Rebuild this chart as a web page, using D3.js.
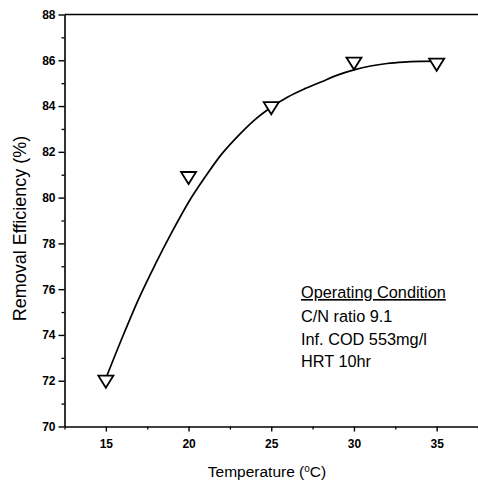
<!DOCTYPE html>
<html>
<head>
<meta charset="utf-8">
<script src="https://cdn.jsdelivr.net/npm/d3@7"></script>
<style>
  body { margin: 0; background: #fff; }
  svg { display: block; }
  .tick text { font-family: "Liberation Sans Narrow", "Arial Narrow", "Liberation Sans", sans-serif; font-weight: bold; font-size: 12px; }
</style>
</head>
<body>
<div id="chart"></div>
<script>
// Measured points (triangles)
const temps = [15, 20, 25, 30, 35];
const efficiency = [72.0, 80.9, 83.95, 85.9, 85.85];

// Fitted curve
const curveTemps = [15, 16, 17, 18, 19, 20, 21, 22, 23, 24, 25, 26, 27, 28, 29, 30, 31, 32, 33, 34, 35];
const curveEff = [72.1, 73.9, 75.6, 77.1, 78.5, 79.8, 80.9, 81.9, 82.7, 83.4, 83.95, 84.4, 84.75, 85.05, 85.35, 85.58, 85.75, 85.86, 85.92, 85.95, 85.96];

const xTicks = [15, 20, 25, 30, 35];
const yTicks = [70, 72, 74, 76, 78, 80, 82, 84, 86, 88];

const notes = ["C/N ratio 9.1", "Inf. COD 553mg/l", "HRT 10hr"];

const width = 478, height = 483;

const svg = d3.select("#chart")
  .append("svg")
  .attr("width", width)
  .attr("height", height);

const x = d3.scaleLinear().domain([12.5, 37.5]).range([64.5, 478]);
const y = d3.scaleLinear().domain([70, 88]).range([426.5, 14.5]);

// minor ticks
const xAxisMinor = d3.axisBottom(x).tickValues(d3.range(12.5, 37.6, 2.5).filter(v => v % 5 !== 0)).tickSize(3).tickFormat("");
const yAxisMinor = d3.axisLeft(y).tickValues(d3.range(71, 88, 2)).tickSize(3).tickFormat("");

svg.append("g")
  .attr("transform", `translate(0,${y(70)})`)
  .call(xAxisMinor)
  .call(g => g.select(".domain").remove())
  .selectAll("line").attr("stroke-width", 1.3);

svg.append("g")
  .attr("transform", `translate(${x(12.5)},0)`)
  .call(yAxisMinor)
  .call(g => g.select(".domain").remove())
  .selectAll("line").attr("stroke-width", 1.3);

// major axes
svg.append("g")
  .attr("transform", `translate(0,${y(70)})`)
  .call(d3.axisBottom(x).tickValues(xTicks).tickSize(5).tickPadding(8).tickSizeOuter(0))
  .call(g => g.select(".domain").attr("stroke-width", 1.6))
  .call(g => g.selectAll(".tick line").attr("stroke-width", 1.4))
  .call(g => g.selectAll(".tick text").attr("fill", "#000"));

svg.append("g")
  .attr("transform", `translate(${x(12.5)},0)`)
  .call(d3.axisLeft(y).tickValues(yTicks).tickSize(6).tickPadding(3).tickSizeOuter(0))
  .call(g => g.select(".domain").attr("stroke-width", 1.6))
  .call(g => g.selectAll(".tick line").attr("stroke-width", 1.4))
  .call(g => g.selectAll(".tick text").attr("fill", "#000"));

// top frame line
svg.append("line")
  .attr("x1", x(12.5)).attr("x2", x(37.5))
  .attr("y1", y(88)).attr("y2", y(88))
  .attr("stroke", "#000").attr("stroke-width", 1.4);

// fitted curve
const line = d3.line()
  .x((d, i) => x(curveTemps[i]))
  .y((d, i) => y(curveEff[i]))
  .curve(d3.curveMonotoneX);

svg.append("path")
  .datum(curveTemps)
  .attr("d", line)
  .attr("fill", "none")
  .attr("stroke", "#000")
  .attr("stroke-width", 1.7);

// triangles (pointing down)
svg.selectAll(".pt")
  .data(temps)
  .enter()
  .append("path")
  .attr("class", "pt")
  .attr("transform", (d, i) => `translate(${x(d)},${y(efficiency[i])})`)
  .attr("d", "M-7.5,-5 L7.5,-5 L0,7 Z")
  .attr("fill", "#fff")
  .attr("stroke", "#000")
  .attr("stroke-width", 1.8)
  .attr("stroke-linejoin", "miter");

// axis titles
svg.append("text")
  .attr("transform", `translate(26,${(y(70) + y(88)) / 2 + 8}) rotate(-90)`)
  .attr("text-anchor", "middle")
  .attr("font-family", "Liberation Sans, Arial, sans-serif")
  .attr("font-size", 18)
  .text("Removal Efficiency (%)");

const xt = svg.append("text")
  .attr("x", 267)
  .attr("y", 477)
  .attr("text-anchor", "middle")
  .attr("font-family", "Liberation Sans, Arial, sans-serif")
  .attr("font-size", 15.5);
xt.append("tspan").text("Temperature (");
xt.append("tspan").attr("font-size", 10).attr("dy", -5).text("o");
xt.append("tspan").attr("dy", 5).text("C)");

// operating condition note
const noteG = svg.append("g")
  .attr("font-family", "Liberation Sans, Arial, sans-serif")
  .attr("font-size", 16.3);

noteG.append("text")
  .attr("x", 301)
  .attr("y", 298)
  .attr("text-decoration", "underline")
  .text("Operating Condition");

noteG.selectAll(".note")
  .data(notes)
  .enter()
  .append("text")
  .attr("class", "note")
  .attr("x", 301)
  .attr("y", (d, i) => 322 + i * 22.5)
  .text(d => d);
</script>
</body>
</html>
